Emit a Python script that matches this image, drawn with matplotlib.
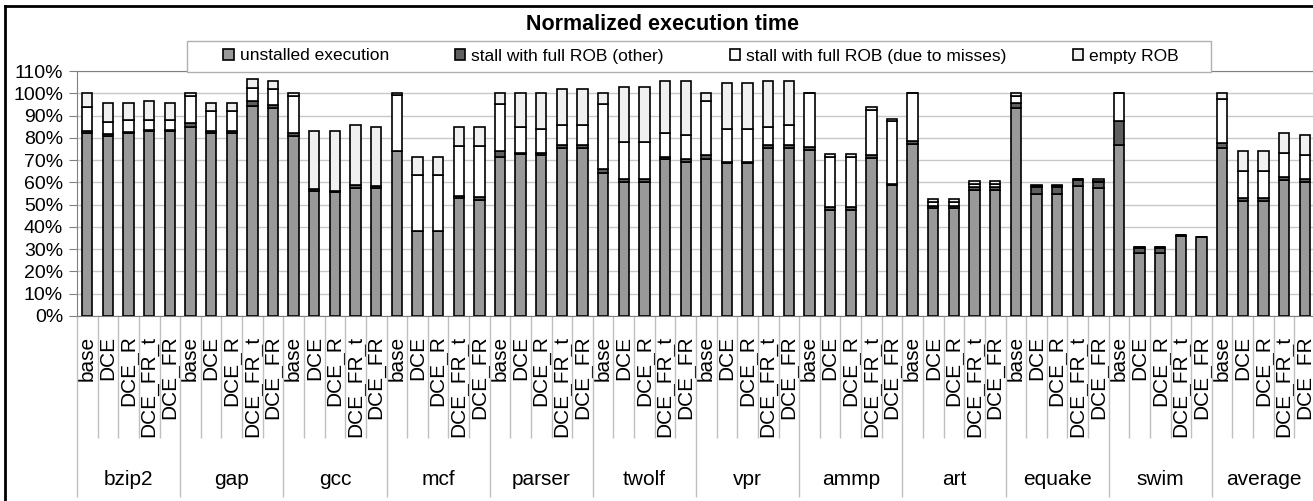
import numpy as np
import matplotlib
matplotlib.use("Agg")
import matplotlib.pyplot as plt
from matplotlib.patches import Rectangle
from matplotlib.lines import Line2D

plt.rcParams['font.family'] = ['Liberation Sans', 'DejaVu Sans']

benchmarks = ['bzip2', 'gap', 'gcc', 'mcf', 'parser', 'twolf', 'vpr',
              'ammp', 'art', 'equake', 'swim', 'average']
configs = ['base', 'DCE', 'DCE_R', 'DCE_FR_t', 'DCE_FR']

# values in %, 5 configs per benchmark
unstalled = [82, 81, 82, 83, 83,
             85, 82, 82, 94.5, 93.6,
             81, 56, 55.5, 57.5, 57.5,
             74, 38, 38, 53, 52.3,
             71.4, 72.9, 72.2, 75.6, 75.6,
             64, 60.2, 60.2, 70.3, 69.2,
             70.3, 68.5, 68.5, 75.6, 75.6,
             74.7, 47.8, 47.8, 71.1, 58.7,
             77.4, 48.3, 48.3, 56.5, 56.5,
             93.6, 55, 55, 58.3, 57.5,
             76.7, 28.5, 28.5, 36, 35.3,
             75.6, 51.6, 51.6, 61, 60.2]
stall_other = [1, 0.5, 0.5, 0.5, 0.5,
               1.5, 1, 1, 2, 1.3,
               1, 1, 0.5, 1.2, 1,
               0.3, 0.3, 0.3, 1, 1.2,
               2.6, 0.5, 1, 1.2, 1.2,
               2, 1.2, 1.2, 1.2, 1.2,
               1.9, 0.5, 0.5, 1.2, 1.2,
               1.2, 1.2, 1.2, 1.2, 0.5,
               1.2, 1.2, 1.2, 1.2, 1.2,
               2, 3, 3, 2.7, 2.7,
               10.9, 2, 2, 0.2, 0,
               1.9, 1.2, 1.2, 1.2, 1.2]
stall_misses = [11, 5.5, 5.5, 4.5, 4.5,
                12.5, 9, 9, 6, 7,
                17, 0, 0, 0, 0,
                25, 25, 25, 22.5, 23,
                21.4, 11.5, 10.8, 8.8, 8.8,
                29.4, 16.9, 16.9, 10.7, 10.8,
                24.2, 15, 15, 8.1, 9,
                24.1, 22.4, 22.4, 20.4, 28.4,
                21.4, 1.5, 1.5, 1.5, 1.5,
                3.4, 0.3, 0.3, 0.3, 0.6,
                12.4, 0.3, 0.3, 0, 0,
                20, 12.2, 12.2, 11, 10.8]
empty_rob = [6, 8.7, 7.7, 8.6, 7.7,
             1, 3.7, 3.7, 3.8, 3.6,
             1, 26, 27, 27, 26.5,
             0.7, 8, 8, 8.4, 8.4,
             4.6, 15.1, 16, 16.3, 16.3,
             4.6, 24.5, 24.5, 23.3, 24.3,
             3.6, 20.6, 20.6, 20.6, 19.7,
             0, 1.5, 1.5, 1.2, 1,
             0, 1.5, 1.5, 1.3, 1.3,
             1, 0.3, 0.3, 0, 0.5,
             0, 0, 0, 0, 0,
             2.5, 9, 9, 9, 9]

series = [('unstalled execution', unstalled, '#999999'),
          ('stall with full ROB (other)', stall_other, '#5f5f5f'),
          ('stall with full ROB (due to misses)', stall_misses, '#ffffff'),
          ('empty ROB', empty_rob, '#f0f0f0')]

W, H = 1313, 501
fig = plt.figure(figsize=(W / 100, H / 100), dpi=100)
ax = fig.add_axes([77 / W, (H - 316) / H, (1315 - 77) / W, 245 / H])

x = np.arange(len(unstalled))
bottom = np.zeros(len(x))
handles = []
for name, vals, col in series:
    vals = np.array(vals, dtype=float)
    b = ax.bar(x, vals, 0.5, bottom=bottom, color=col, edgecolor='black',
               linewidth=1.2, label=name, zorder=3)
    handles.append(b)
    bottom += vals

ax.set_xlim(-0.5, len(x) - 0.5)
ax.set_ylim(0, 110)
ax.set_yticks(np.arange(0, 111, 10))
ax.set_yticklabels([f'{v}%' for v in range(0, 111, 10)], fontsize=14)
ax.yaxis.grid(True, color='#c8c8c8', linewidth=1, zorder=0)
ax.tick_params(axis='y', length=6, color='#808080', pad=4)

ax.set_xticks(x)
ax.set_xticklabels(configs * len(benchmarks), rotation=90, fontsize=15,
                   va='top', ha='center')
ax.tick_params(axis='x', length=0, pad=14)

for s in ['left', 'bottom', 'top']:
    ax.spines[s].set_color('#808080')
ax.spines['right'].set_visible(False)

# category separators below the axis
trans = ax.get_xaxis_transform()
edges = np.arange(len(x) + 1) - 0.5
inner = [e for i, e in enumerate(edges) if i % 5 != 0]
outer = [e for i, e in enumerate(edges) if i % 5 == 0]
ax.vlines(inner, -0.498, 0, transform=trans, color='#c0c0c0', lw=1, clip_on=False)
ax.vlines(outer, -0.739, 0, transform=trans, color='#c0c0c0', lw=1, clip_on=False)
for i, name in enumerate(benchmarks):
    ax.text(i * 5 + 2, -0.669, name, transform=trans, ha='center',
            va='center', fontsize=15)

# title and legend
fig.text(663 / W, 1 - 25 / H, 'Normalized execution time', ha='center',
         va='center', fontsize=15.5, fontweight='bold')
fig.patches.append(Rectangle((187 / W, 1 - 72 / H), (1211 - 187) / W, 31 / H,
                             transform=fig.transFigure, facecolor='white',
                             edgecolor='#b0b0b0', lw=1, zorder=5))
leg = fig.legend(handles=handles, loc='center', bbox_to_anchor=(701 / W, 1 - 56 / H),
                 ncol=4, frameon=False, fontsize=12.5, handlelength=0.6,
                 handleheight=0.6, handletextpad=0.35, columnspacing=3.8,
                 borderpad=0)
leg.set_zorder(6)

# chart border
fig.add_artist(Line2D([5 / W, 5 / W], [0, 1 - 6 / H], color='black', lw=2))
fig.add_artist(Line2D([5 / W, 1], [1 - 6 / H, 1 - 6 / H], color='black', lw=2))

fig.savefig('out.png', dpi=100)
